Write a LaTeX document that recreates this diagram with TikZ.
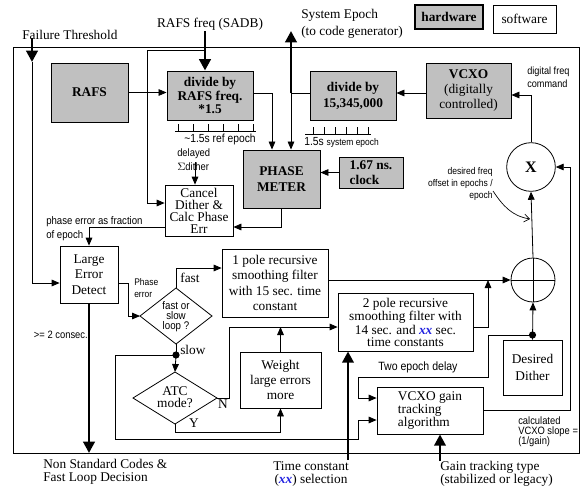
\documentclass[tikz,border=0pt]{standalone}
\usepackage{fontspec}
\setmainfont{Liberation Serif}
\newfontfamily\lsans[FakeStretch=0.88]{Liberation Sans}
\usetikzlibrary{arrows.meta,calc}
\definecolor{hwgray}{HTML}{C0C0C0}
\definecolor{xxblue}{HTML}{2020E0}
\newcommand\xxt{\textcolor{xxblue}{\textbf{\textit{xx}}}}
\begin{document}
\begin{tikzpicture}[x=0.75pt,y=-0.75pt,
  font=\fontsize{10}{11.5}\selectfont,
  wire/.style={line width=0.6pt},
  conn/.style={line width=0.6pt,-{Triangle[length=6pt,width=5pt]}},
  bigarrow/.style={line width=2.2pt,-{Triangle[length=8.5pt,width=8.5pt]}},
  sz/.style 2 args={minimum width=#1pt,minimum height=#2pt},
  hw/.style={draw,fill=hwgray,line width=0.7pt,inner sep=0pt,align=center,font=\fontsize{10}{10}\selectfont\bfseries},
  sw/.style={draw,fill=white,line width=0.6pt,inner sep=0pt,align=center},
  ser/.style={inner sep=0pt},
  lab/.style={inner sep=0pt,font=\lsans\fontsize{8}{9}\selectfont}
]
\useasboundingbox (0,0) rectangle (581,490);
% outer frame
\draw[wire] (13,47) rectangle (579,453);

% legend
\node[hw,sz={51}{18},line width=1pt] (hwl) at (449,17) {hardware};
\node[sw,sz={47.25}{21}] (swl) at (524.5,19) {software};

% hardware boxes
\node[hw,sz={57.75}{44.25}] (rafs) at (89.5,92.5) {RAFS};
\node[hw,sz={64.5}{36.75}] (divr) at (210,95.5) {divide by\\RAFS freq.\\{*}1.5};
\node[hw,sz={64.5}{36.75},font=\fontsize{10}{12}\selectfont\bfseries] (div15) at (353,95.5) {divide by\\15,345,000};
\node[hw,sz={63.75}{41.25},font=\fontsize{10}{11.5}\selectfont] (vcxo) at (468.5,90.5) {\textbf{VCXO}\\(digitally\\controlled)};
\node[hw,sz={57.75}{43.5},font=\fontsize{10}{12}\selectfont\bfseries] (pm) at (281.5,179) {PHASE\\METER};
\node[hw,sz={48}{23.25},align=left,font=\fontsize{10}{11}\selectfont\bfseries] (clk) at (371,172.5) {1.67 ns.\\clock};

% software boxes
\node[sw,sz={51}{38.25},font=\fontsize{10}{9}\selectfont] (cancel) at (199,210.5) {Cancel\\Dither \&\\Calc Phase\\Err};
\node[sw,sz={43.5}{42.75}] (led) at (89,274.5) {Large\\Error\\Detect};
\node[sw,sz={79.5}{51}] (p1) at (275,283) {1 pole recursive\\smoothing filter\\with 15 sec. time\\constant};
\node[sw,sz={101.25}{43.5},font=\fontsize{10}{9}\selectfont] (p2) at (405.5,322) {2 pole recursive\\smoothing filter with\\14 sec. and \xxt{} sec.\\time constants};
\node[sw,sz={60.75}{42}] (wt) at (280.5,380) {Weight\\large errors\\more};
\node[sw,sz={79.5}{35.25},align=left,font=\fontsize{10}{9.5}\selectfont] (gain) at (430,410.5) {VCXO gain\\tracking\\algorithm};
\node[sw,sz={44.25}{41.25},font=\fontsize{10}{12.5}\selectfont] (dd) at (532.5,367.5) {Desired\\Dither};
\node[draw,circle,line width=0.6pt,minimum size=36.5pt,inner sep=0pt,font=\fontsize{12}{12}\selectfont\bfseries] (mult) at (531,167) {X};
\node[draw,circle,line width=0.6pt,minimum size=33pt,inner sep=0pt] (sum) at (533,280) {};
\draw[wire] (sum.north) -- (sum.south) (sum.west) -- (sum.east);

% diamonds
\coordinate (d1t) at (176,288); \coordinate (d1r) at (212,316);
\coordinate (d1b) at (176,344); \coordinate (d1l) at (140,316);
\draw[wire] (d1t) -- (d1r) -- (d1b) -- (d1l) -- cycle;
\node[lab,align=center,font=\lsans\fontsize{8.3}{7.5}\selectfont] (d1) at (176,317) {fast or\\slow\\loop ?};
\coordinate (d2t) at (175,372); \coordinate (d2r) at (217,398);
\coordinate (d2b) at (175,424); \coordinate (d2l) at (133,398);
\draw[wire] (d2t) -- (d2r) -- (d2b) -- (d2l) -- cycle;
\node[ser,align=center,font=\fontsize{10}{9}\selectfont] (d2) at (175,397) {ATC\\mode?};

% ticks
\draw[wire] (175,131) -- (256,131);
\foreach \t in {178,193,208,223,238,253} \draw[wire] (\t,124) -- (\t,131);
\node[lab,font=\lsans\fontsize{8.8}{9}\selectfont] (refep) at (220,139) {\textasciitilde 1.5s ref epoch};
\draw[wire] (305,134) -- (371,134);
\foreach \t in {313,324,335,346,357,368} \draw[wire] (\t,127) -- (\t,134);
\node[lab,anchor=west] (sysep) at (304,142) {\fontsize{8.8}{9}\selectfont 1.5s \fontsize{7.2}{8}\selectfont system epoch};

% coordinates
\coordinate (j1) at (291,93);
\coordinate (j2) at (272,93);
\coordinate (sysup) at (291,31);
\coordinate (sadb) at (205,31);
\coordinate (jr) at (205,50);
\coordinate (jrl) at (147,50);
\coordinate (cin) at (147,203);
\coordinate (pe) at (90,227);
\coordinate (ftt) at (32,38);
\coordinate (ftb) at (32,62);
\coordinate (ledin) at (32,283);
\coordinate (ledout) at (128,283);
\coordinate (dot1) at (176,355);
\coordinate (sl1) at (115,355);
\coordinate (sl2) at (115,439);
\coordinate (sl3) at (358,439);
\coordinate (sl4) at (358,420);
\coordinate (nn1) at (229,398);
\coordinate (nn2) at (229,327);
\coordinate (p2o) at (488,327);
\coordinate (dot2) at (532.5,335);
\coordinate (dl1) at (488,335);
\coordinate (dl2) at (488,377);
\coordinate (dl3) at (358,377);
\coordinate (dl4) at (358,398);
\coordinate (gr) at (570,410.5);
\coordinate (xr) at (570,167);
\coordinate (vin) at (531,95);
\coordinate (tcb) at (348,460);
\coordinate (gtb) at (440,461);
\coordinate (dsig) at (195,162);

% hardware connections
\draw[conn] (rafs.east) -- (rafs.east -| divr.west);
\draw[bigarrow] (sadb) -- (sadb |- divr.north);
\draw[wire] (divr.east |- j1) -- (j2);
\draw[conn] (j2) -- (j2 |- pm.north);
\draw[wire] (div15.west |- j1) -- (j1);
\draw[bigarrow] (j1) -- (sysup);
\draw[conn] (j1) -- (j1 |- pm.north);
\draw[conn] (vcxo.west |- j1) -- (div15.east |- j1);
\draw[conn] (mult.north) |- (vcxo.east |- vin);
\draw[conn] (clk.west) -- (clk.west -| pm.east);
\draw[conn] (pm.south) |- (cancel.east |- pe);
\draw[conn] (jr) -- (jrl) -- (cin) -- (cin -| cancel.west);
\draw[conn] (dsig) -- (dsig |- cancel.north);

% software connections
\draw[conn] (cancel.west |- pe) -| (led.north);
\draw[bigarrow] (ftt) -- (ftb);
\draw[conn] (ftb) -- (ledin) -- (ledin -| led.west);
\draw[conn] (led.east |- ledout) -- (ledout) |- (d1l);
\draw[bigarrow] (led.south) -- (led.south |- 0,453);
\draw[conn] (d1t) |- (p1.west |- 0,268);
\draw[wire] (d1b) -- (dot1);
\fill (dot1) circle (3.6);
\draw[conn] (dot1) -- (d2t);
\draw[conn] (dot1) -- (sl1) -- (sl2) -- (sl3) -- (sl4) -- (sl4 -| gain.west);
\draw[conn] (d2r) -- (nn1) -- (nn2) -- (nn2 -| p2.west);
\draw[conn] (wt.north) -- (wt.north |- nn2);
\draw[conn] (d2b) |- ($(wt.south)+(0,24)$) -- (wt.south);
\draw[conn] (p1.east |- sum.west) -- (sum.west);
\draw[conn] (p2o -| p2.east) -- (p2o) -- (p2o |- sum.west);
\draw[conn] (dd.north) -- (sum.south);
\fill (dot2) circle (3.6);
\draw[conn] (dot2) -- (dl1) -- (dl2) -- (dl3) -- (dl4) -- (dl4 -| gain.west);
\draw[conn] (sum.north) -- (mult.south);
\draw[conn] (gain.east) -- (gr) -- (xr) -- (mult.east);
\draw[bigarrow] (tcb) -- (tcb |- p2.south);
\draw[bigarrow] (gtb) -- (gtb |- gain.south);
\draw[line width=0.5pt,-{Straight Barb[length=4pt,width=6pt]}] (493,191) .. controls (503,206) and (512,216) .. (530,219);

% labels
\node[ser] (lsadb) at (210,24) {RAFS freq (SADB)};
\node[ser,anchor=west,align=left,font=\fontsize{10}{12.5}\selectfont] (lsys) at (301,23.5) {System Epoch\\(to code generator)};
\node[ser,anchor=west] (lft) at (22,35) {Failure Threshold};
\node[lab,anchor=west,align=left,font=\lsans\fontsize{7.8}{9.5}\selectfont] (ldfc) at (527,77) {digital freq\\command};
\node[lab,anchor=east,align=right,font=\lsans\fontsize{7.3}{9}\selectfont] (ldes) at (493,184) {desired freq\\offset in epochs /\\epoch};
\node[lab,anchor=west,align=left,font=\lsans\fontsize{8}{10.5}\selectfont] (ldel) at (177,160) {delayed\\$\Sigma$dither};
\node[lab,anchor=west,align=left,font=\lsans\fontsize{8.2}{10.5}\selectfont] (lpef) at (46,229) {phase error as fraction\\of epoch};
\node[lab,anchor=west,align=left,font=\lsans\fontsize{7.2}{8.5}\selectfont] (lphe) at (134,288) {Phase\\error};
\node[ser] (lfast) at (190,278) {fast};
\node[ser,anchor=west] (lslow) at (180,350) {slow};
\node[ser] (lN) at (223,404) {N};
\node[ser] (lY) at (194,423) {Y};
\node[lab,anchor=east] (lcons) at (88,335) {>= 2 consec.};
\node[ser,anchor=north west,align=left,font=\fontsize{10}{10}\selectfont] (lnsc) at (43,459) {Non Standard Codes \&\\Fast Loop Decision};
\node[ser,anchor=north,align=center,font=\fontsize{10}{10}\selectfont] (ltc) at (311,461) {Time constant\\(\xxt) selection};
\node[ser,anchor=north west,align=left,font=\fontsize{10}{10}\selectfont] (lgt) at (440,461) {Gain tracking type\\(stabilized or legacy)};
\node[lab,anchor=west,font=\lsans\fontsize{9}{9}\selectfont] (ltwo) at (378,367) {Two epoch delay};
\node[lab,anchor=west,align=left,font=\lsans\fontsize{8}{7.5}\selectfont] (lslope) at (518,432) {calculated\\VCXO slope =\\(1/gain)};
\end{tikzpicture}
\end{document}
